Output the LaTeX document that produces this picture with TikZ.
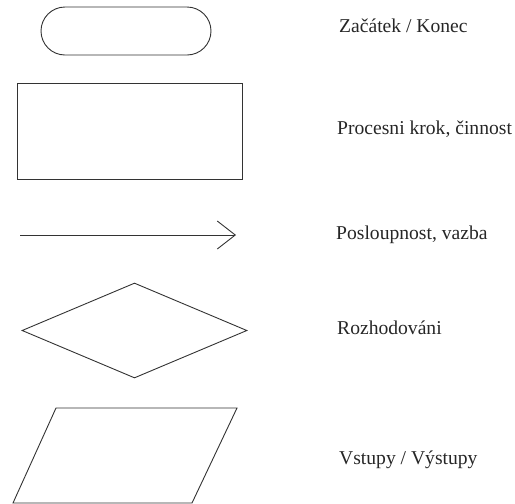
\documentclass[tikz,border=0pt]{standalone}
\usepackage{fontspec}
\setmainfont{Liberation Serif}
\usetikzlibrary{shapes.geometric,arrows.meta}
\begin{document}
\begin{tikzpicture}[x=1pt,y=-1pt,
  outline/.style={draw=black!80,line width=0.9pt},
  label/.style={anchor=base west,inner sep=0pt,font=\fontsize{19.6}{22}\selectfont,text=black!85}]
\useasboundingbox (0,0) rectangle (515,504);
% symbols
\node[outline,rectangle,rounded corners=24pt,minimum width=170pt,minimum height=48pt,inner sep=0pt] (term) at (126,31) {};
\node[outline,rectangle,minimum width=225pt,minimum height=96pt,inner sep=0pt] (proc) at (129.5,131) {};
\coordinate (arrA) at (20,235);
\coordinate (arrB) at (236,235);
\draw[outline,-{Straight Barb[length=18pt,width=28pt,line width=0.9pt]}] (arrA) -- (arrB);
\node[outline,diamond,minimum width=225pt,minimum height=95pt,inner sep=0pt] (dec) at (134.5,330.5) {};
\coordinate (p1) at (56,408);
\coordinate (p2) at (237,408);
\coordinate (p3) at (192,503);
\coordinate (p4) at (13,503);
\draw[outline] (p1) -- (p2) -- (p3) -- (p4) -- cycle;
% labels
\node[label] (t1) at (339,32.7) {Začátek / Konec};
\node[label] (t2) at (337,134) {Procesni krok, činnost};
\node[label] (t3) at (336,239) {Posloupnost, vazba};
\node[label] (t4) at (337,334) {Rozhodováni};
\node[label] (t5) at (339,464) {Vstupy / Výstupy};
\end{tikzpicture}
\end{document}
